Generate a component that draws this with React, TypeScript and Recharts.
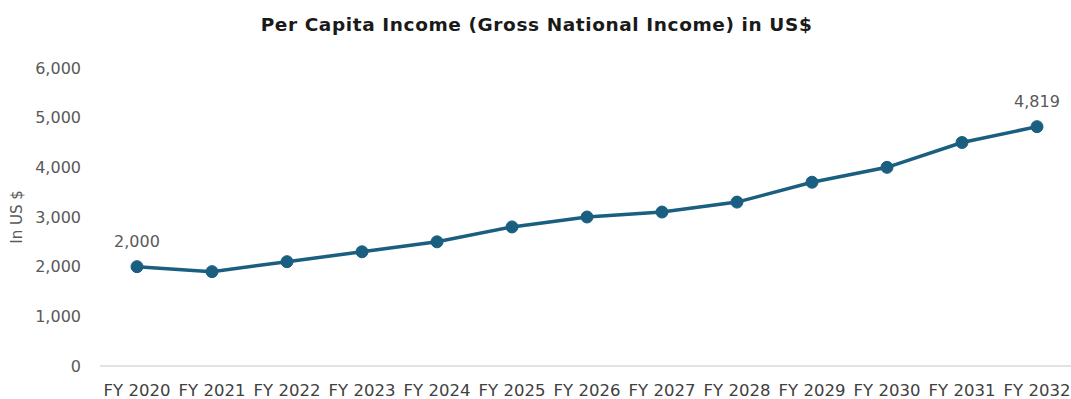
import React from "react";
import { LineChart, Line, XAxis, YAxis, LabelList } from "recharts";

const categories = ["FY 2020", "FY 2021", "FY 2022", "FY 2023", "FY 2024", "FY 2025", "FY 2026", "FY 2027", "FY 2028", "FY 2029", "FY 2030", "FY 2031", "FY 2032"];
const incomeValues = [2000, 1900, 2100, 2300, 2500, 2800, 3000, 3100, 3300, 3700, 4000, 4500, 4819];
const yTicks = [0, 1000, 2000, 3000, 4000, 5000, 6000];
const labeledIndexes = [0, 12];

const data = categories.map((c, i) => ({ name: c, value: incomeValues[i] }));

const FONT = "'DejaVu Sans', Lato, sans-serif";
const COLOR = "#1A5E80";
const TEXT = "#595959";

const renderLabel = (props: any) => {
  const { x, y, value, index } = props;
  if (!labeledIndexes.includes(index)) return null;
  return (
    <text x={x} y={y - 20} textAnchor="middle" fill={TEXT} fontSize={16} fontFamily={FONT}>
      {Number(value).toLocaleString("en-US")}
    </text>
  );
};

export default function App() {
  return (
    <div style={{ position: "absolute", left: 0, top: 0, width: 1071, height: 399, background: "#fff", fontFamily: FONT }}>
      <div style={{ position: "absolute", left: 0, top: 14, width: 1073, textAlign: "center", fontSize: 18.5, lineHeight: "22px", letterSpacing: 0.6, fontWeight: 700, color: "#1a1a1a", fontFamily: FONT }}>
        Per Capita Income (Gross National Income) in US$
      </div>
      <LineChart width={1071} height={399} data={data} margin={{ top: 68, right: 0, bottom: 0, left: 0 }}>
        <XAxis
          dataKey="name"
          padding={{ left: 37, right: 34 }}
          tickLine={false}
          axisLine={{ stroke: "#D9D9D9", strokeWidth: 1.5 }}
          tick={{ fill: "#404040", fontSize: 16.5, fontFamily: FONT }}
          tickMargin={12}
          height={33}
          interval={0}
        />
        <YAxis
          domain={[0, 6000]}
          ticks={yTicks}
          width={100}
          tickLine={false}
          axisLine={false}
          tickMargin={13}
          tick={{ fill: TEXT, fontSize: 16, fontFamily: FONT }}
          tickFormatter={(v: number) => v.toLocaleString("en-US")}
          label={{ value: "In US $", angle: -90, position: "insideLeft", offset: 17, style: { fill: TEXT, fontSize: 15, fontFamily: FONT, textAnchor: "middle" } }}
        />
        <Line
          type="linear"
          dataKey="value"
          stroke={COLOR}
          strokeWidth={3.5}
          dot={{ r: 6, fill: COLOR, stroke: COLOR, strokeWidth: 1 }}
          isAnimationActive={false}
        >
          <LabelList dataKey="value" content={renderLabel} />
        </Line>
      </LineChart>
    </div>
  );
}
